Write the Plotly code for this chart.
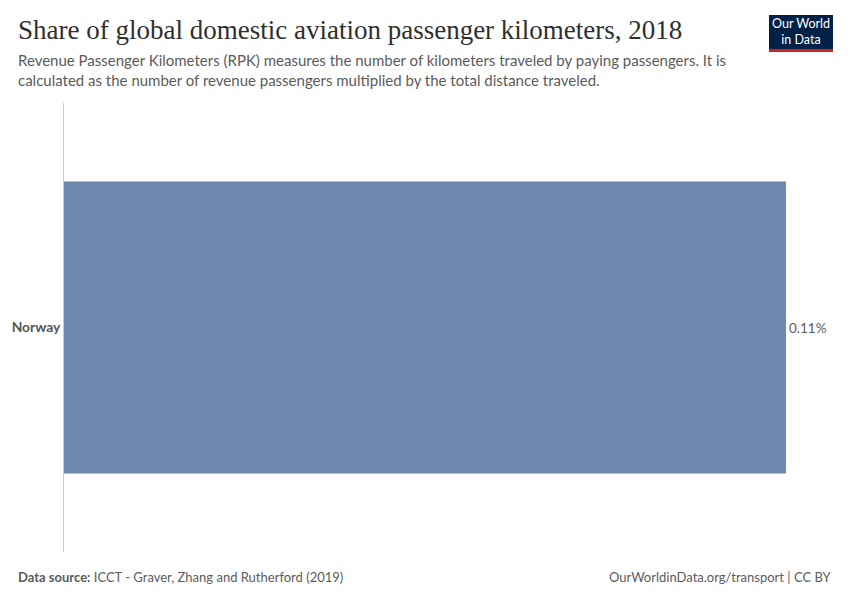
import plotly.graph_objects as go

countries = ["Norway"]
shares = [0.11]
labels = ["0.11%"]

L, R, T, B = 64, 64, 103, 48
W, H = 850, 600
pw, ph = W - L - R, H - T - B

def px(x):
    return (x - L) / pw

def py(y):
    return (H - B - y) / ph

fig = go.Figure()
fig.add_trace(go.Bar(
    x=shares, y=countries, orientation="h",
    marker=dict(color="#6f88b0", line=dict(width=0)),
    text=labels, textposition="outside",
    textfont=dict(family="Lato", size=13.5, color="#5b5b5b"),
    cliponaxis=False, hoverinfo="skip",
))

fig.update_layout(
    width=W, height=H,
    margin=dict(l=L, r=R, t=T, b=B),
    paper_bgcolor="white", plot_bgcolor="white",
    bargap=0.35,
    showlegend=False,
    xaxis=dict(range=[0, 0.11], visible=False, fixedrange=True),
    yaxis=dict(showline=True, linecolor="#cccccc", linewidth=1,
               ticks="", showgrid=False, zeroline=False,
               tickfont=dict(family="Lato", size=13.8, color="#555555"),
               ticklabelstandoff=0),
    font=dict(family="Lato"),
)

fig.update_yaxes(tickvals=countries, ticktext=["<b>" + c + "</b>" for c in countries])

ann = []
ann.append(dict(text="Share of global domestic aviation passenger kilometers, 2018",
                x=px(16), y=py(30), xref="paper", yref="paper", xanchor="left", yanchor="middle",
                showarrow=False, font=dict(family="Liberation Serif", size=27, color="#2f2f2f")))
ann.append(dict(text="Revenue Passenger Kilometers (RPK) measures the number of kilometers traveled by paying passengers. It is<br>calculated as the number of revenue passengers multiplied by the total distance traveled.",
                x=px(16), y=py(70), xref="paper", yref="paper", xanchor="left", yanchor="middle",
                align="left", showarrow=False,
                font=dict(family="Lato", size=15, color="#5b5b5b")))
ann.append(dict(text="<b>Data source:</b> ICCT - Graver, Zhang and Rutherford (2019)",
                x=px(16), y=py(577), xref="paper", yref="paper", xanchor="left", yanchor="middle",
                showarrow=False, font=dict(family="Lato", size=13, color="#5b5b5b")))
ann.append(dict(text="OurWorldinData.org/transport | CC BY",
                x=px(834), y=py(577), xref="paper", yref="paper", xanchor="right", yanchor="middle",
                showarrow=False, font=dict(family="Lato", size=13, color="#5b5b5b")))
ann.append(dict(text="Our World<br>in Data",
                x=px(801), y=py(32), xref="paper", yref="paper", xanchor="center", yanchor="middle",
                showarrow=False, font=dict(family="Lato", size=12.5, color="white")))
fig.update_layout(annotations=ann)

fig.update_layout(shapes=[
    dict(type="rect", xref="paper", yref="paper", x0=px(769), x1=px(833), y0=py(49), y1=py(15),
         fillcolor="#002147", line=dict(width=0), layer="above"),
    dict(type="rect", xref="paper", yref="paper", x0=px(769), x1=px(833), y0=py(52), y1=py(49),
         fillcolor="#ce261e", line=dict(width=0), layer="above"),
])

fig.write_html("out.html")
